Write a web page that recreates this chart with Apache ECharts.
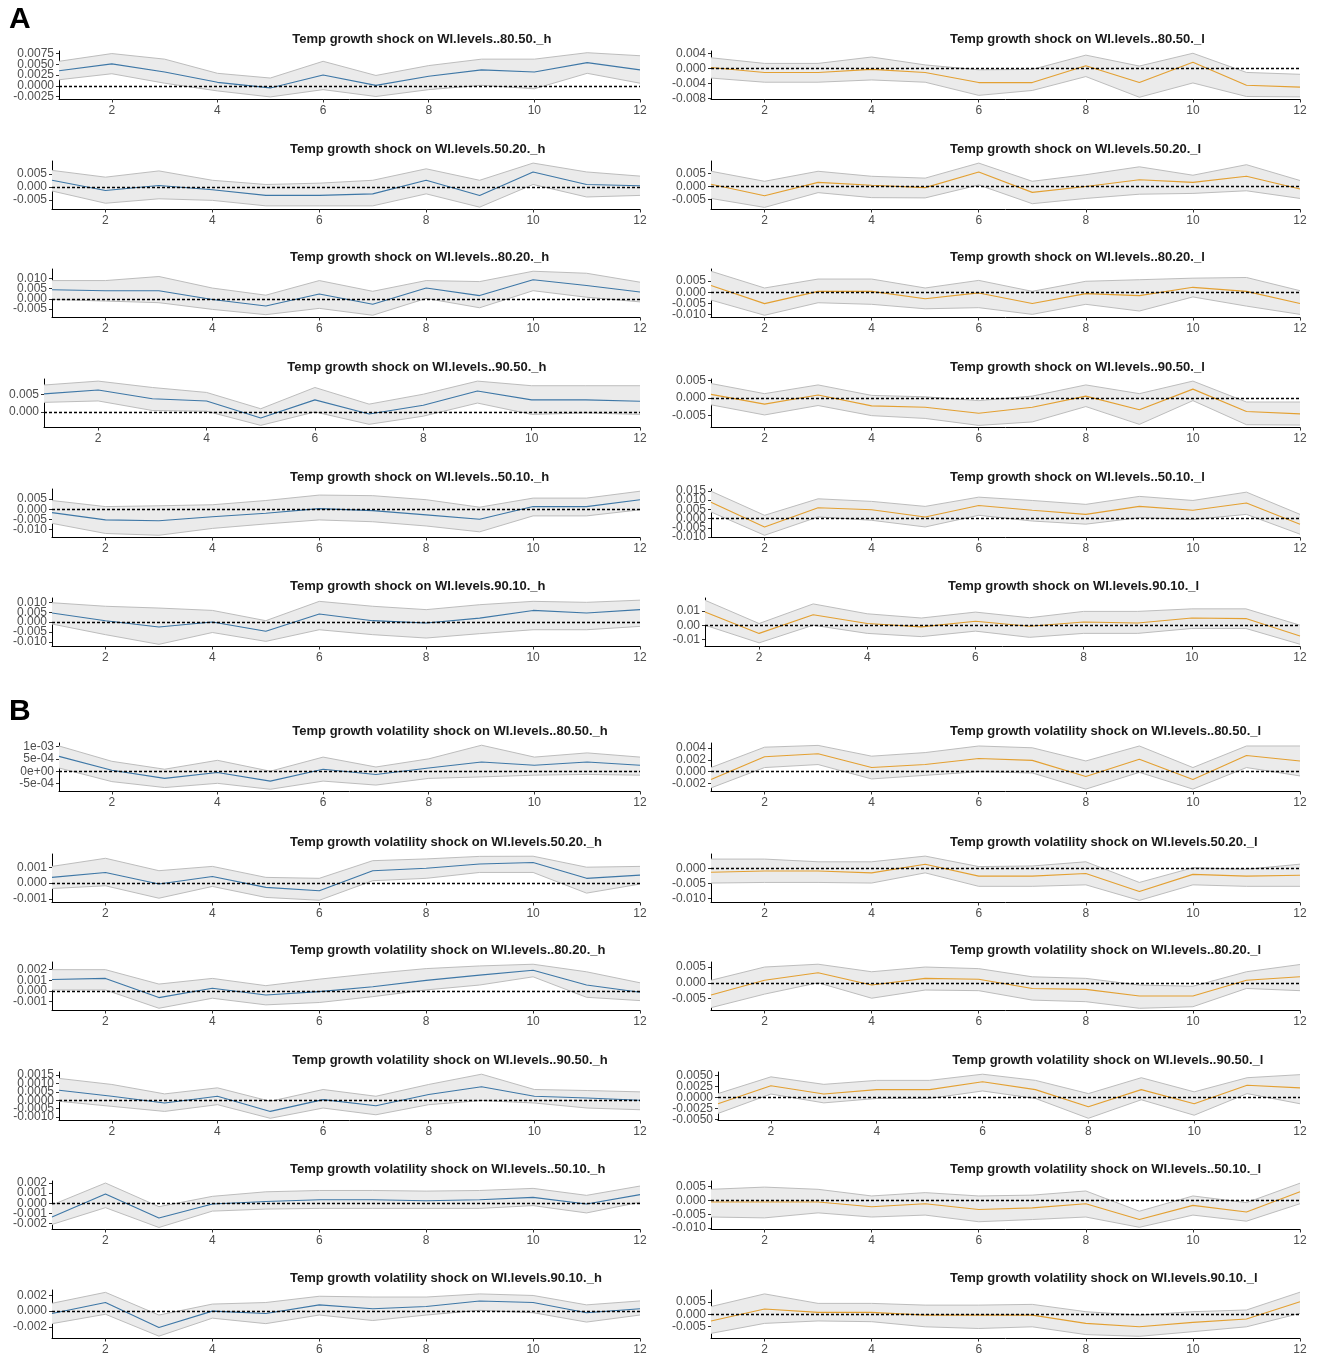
<!DOCTYPE html>
<html><head><meta charset="utf-8">
<script src="https://cdn.jsdelivr.net/npm/echarts@6/dist/echarts.min.js"></script>
<style>html,body{margin:0;padding:0;background:#fff;}#chart{width:1317px;height:1356px;}</style>
</head><body><div id="chart"></div>
<script>
// ---------------- DATA ----------------
const horizon = [1,2,3,4,5,6,7,8,9,10,11,12];
const xTickValues = [2,4,6,8,10,12];

// Panel A : temperature growth shock
const A_8050_h_mean = [0.0035,0.0051,0.0032,0.0008,-0.0005,0.0025,0.0001,0.0022,0.0037,0.0032,0.0054,0.0037];
const A_8050_h_hi   = [0.0057,0.0075,0.0062,0.0029,0.0018,0.0057,0.0024,0.0047,0.0062,0.0062,0.0077,0.0070];
const A_8050_h_lo   = [0.0014,0.0028,0.0006,-0.0012,-0.0026,-0.0009,-0.0025,-0.0009,0.0001,-0.0007,0.0029,0.0006];
const A_8050_h_ticks = ["-0.0025","0.0000","0.0025","0.0050","0.0075"];

const A_8050_l_mean = [0.0003,-0.0010,-0.0010,-0.0002,-0.0010,-0.0037,-0.0037,0.0008,-0.0037,0.0017,-0.0044,-0.0049];
const A_8050_l_hi   = [0.0029,0.0014,0.0014,0.0031,0.0010,-0.0003,-0.0002,0.0036,0.0007,0.0041,-0.0010,-0.0015];
const A_8050_l_lo   = [-0.0025,-0.0036,-0.0036,-0.0030,-0.0036,-0.0071,-0.0058,-0.0021,-0.0076,-0.0038,-0.0074,-0.0075];
const A_8050_l_ticks = ["-0.008","-0.004","0.000","0.004"];

const A_5020_h_mean = [0.0026,-0.0013,0.0006,-0.0010,-0.0032,-0.0032,-0.0026,0.0026,-0.0032,0.0058,0.0010,0.0005];
const A_5020_h_hi   = [0.0064,0.0038,0.0062,0.0026,0.0010,0.0015,0.0026,0.0070,0.0026,0.0092,0.0058,0.0042];
const A_5020_h_lo   = [-0.0015,-0.0062,-0.0045,-0.0051,-0.0072,-0.0072,-0.0072,-0.0026,-0.0077,0.0010,-0.0038,-0.0032];
const A_5020_h_ticks = ["-0.005","0.000","0.005"];

const A_5020_l_mean = [0.0009,-0.0035,0.0016,0.0005,-0.0004,0.0055,-0.0022,0.0000,0.0026,0.0016,0.0039,-0.0009];
const A_5020_l_hi   = [0.0058,0.0020,0.0058,0.0039,0.0032,0.0089,0.0020,0.0045,0.0075,0.0043,0.0083,0.0023];
const A_5020_l_lo   = [-0.0045,-0.0079,-0.0023,-0.0042,-0.0043,0.0006,-0.0065,-0.0045,-0.0029,-0.0026,-0.0016,-0.0045];
const A_5020_l_ticks = ["-0.005","0.000","0.005"];

const A_8020_h_mean = [0.0045,0.0040,0.0040,-0.0003,-0.0035,0.0024,-0.0027,0.0053,0.0016,0.0094,0.0066,0.0034];
const A_8020_h_hi   = [0.0090,0.0090,0.0110,0.0053,0.0018,0.0090,0.0037,0.0090,0.0085,0.0136,0.0126,0.0082];
const A_8020_h_lo   = [-0.0003,-0.0011,-0.0019,-0.0052,-0.0078,-0.0047,-0.0081,0.0002,-0.0044,0.0040,0.0008,-0.0015];
const A_8020_h_ticks = ["-0.005","0.000","0.005","0.010"];

const A_8020_l_mean = [0.0030,-0.0051,0.0004,0.0004,-0.0029,-0.0003,-0.0050,-0.0006,-0.0015,0.0022,0.0004,-0.0050];
const A_8020_l_hi   = [0.0094,0.0019,0.0059,0.0059,0.0019,0.0053,0.0004,0.0049,0.0056,0.0063,0.0066,0.0007];
const A_8020_l_lo   = [-0.0035,-0.0103,-0.0047,-0.0054,-0.0074,-0.0069,-0.0099,-0.0054,-0.0084,-0.0021,-0.0062,-0.0099];
const A_8020_l_ticks = ["-0.010","-0.005","0.000","0.005"];

const A_9050_h_mean = [0.0051,0.0062,0.0037,0.0031,-0.0017,0.0034,-0.0006,0.0019,0.0059,0.0034,0.0034,0.0030];
const A_9050_h_hi   = [0.0076,0.0087,0.0069,0.0055,0.0009,0.0069,0.0022,0.0050,0.0087,0.0074,0.0074,0.0074];
const A_9050_h_lo   = [0.0027,0.0031,0.0004,0.0002,-0.0038,0.0000,-0.0035,-0.0012,0.0025,-0.0007,-0.0003,-0.0007];
const A_9050_h_ticks = ["0.000","0.005"];

const A_9050_l_mean = [0.0010,-0.0018,0.0008,-0.0023,-0.0027,-0.0044,-0.0027,0.0005,-0.0034,0.0025,-0.0039,-0.0046];
const A_9050_l_hi   = [0.0041,0.0012,0.0037,0.0007,0.0003,-0.0008,0.0005,0.0037,0.0012,0.0048,-0.0012,-0.0012];
const A_9050_l_lo   = [-0.0020,-0.0049,-0.0022,-0.0051,-0.0059,-0.0079,-0.0069,-0.0025,-0.0076,-0.0008,-0.0077,-0.0078];
const A_9050_l_ticks = ["-0.005","0.000","0.005"];

const A_5010_h_mean = [-0.0017,-0.0053,-0.0057,-0.0037,-0.0020,0.0003,-0.0007,-0.0028,-0.0050,0.0013,0.0013,0.0047];
const A_5010_h_hi   = [0.0043,0.0013,0.0017,0.0022,0.0043,0.0070,0.0067,0.0047,0.0010,0.0055,0.0055,0.0089];
const A_5010_h_lo   = [-0.0070,-0.0120,-0.0129,-0.0095,-0.0073,-0.0053,-0.0062,-0.0083,-0.0112,-0.0033,-0.0033,-0.0003];
const A_5010_h_ticks = ["-0.010","-0.005","0.000","0.005"];

const A_5010_l_mean = [0.0089,-0.0045,0.0059,0.0048,0.0009,0.0071,0.0045,0.0023,0.0066,0.0045,0.0084,-0.0030];
const A_5010_l_hi   = [0.0148,0.0018,0.0107,0.0093,0.0066,0.0116,0.0098,0.0077,0.0120,0.0098,0.0143,0.0023];
const A_5010_l_lo   = [0.0036,-0.0090,0.0009,-0.0009,-0.0045,0.0018,-0.0013,-0.0030,0.0005,-0.0005,0.0023,-0.0084];
const A_5010_l_ticks = ["-0.010","-0.005","0.000","0.005","0.010","0.015"];

const A_9010_h_mean = [0.0046,0.0007,-0.0025,0.0000,-0.0047,0.0041,0.0007,-0.0005,0.0020,0.0059,0.0046,0.0063];
const A_9010_h_hi   = [0.0098,0.0080,0.0071,0.0059,0.0007,0.0105,0.0080,0.0063,0.0088,0.0105,0.0100,0.0111];
const A_9010_h_lo   = [-0.0010,-0.0064,-0.0113,-0.0053,-0.0098,-0.0039,-0.0064,-0.0081,-0.0059,-0.0039,-0.0039,-0.0022];
const A_9010_h_ticks = ["-0.010","-0.005","0.000","0.005","0.010"];

const A_9010_l_mean = [0.0093,-0.0058,0.0074,0.0012,-0.0012,0.0028,-0.0007,0.0023,0.0016,0.0051,0.0047,-0.0077];
const A_9010_l_hi   = [0.0177,0.0012,0.0151,0.0081,0.0051,0.0093,0.0053,0.0098,0.0098,0.0116,0.0116,0.0000];
const A_9010_l_lo   = [0.0000,-0.0125,0.0000,-0.0058,-0.0081,-0.0042,-0.0086,-0.0058,-0.0058,-0.0023,-0.0023,-0.0135];
const A_9010_l_ticks = ["-0.01","0.00","0.01"];

// Panel B : temperature growth volatility shock
const B_8050_h_mean = [0.00060,0.00004,-0.00029,-0.00005,-0.00040,0.00008,-0.00013,0.00013,0.00037,0.00024,0.00037,0.00024];
const B_8050_h_hi   = [0.00102,0.00040,0.00008,0.00044,0.00000,0.00057,0.00017,0.00050,0.00105,0.00057,0.00074,0.00057];
const B_8050_h_lo   = [0.00013,-0.00042,-0.00066,-0.00049,-0.00073,-0.00040,-0.00056,-0.00029,-0.00023,-0.00016,-0.00013,-0.00016];
const B_8050_h_ticks = ["-5e-04","0e+00","5e-04","1e-03"];

const B_8050_l_mean = [-0.0013,0.0025,0.0030,0.0007,0.0012,0.0022,0.0019,-0.0008,0.0021,-0.0013,0.0027,0.0018];
const B_8050_l_hi   = [0.0007,0.0041,0.0044,0.0026,0.0032,0.0043,0.0040,0.0018,0.0043,0.0007,0.0043,0.0043];
const B_8050_l_lo   = [-0.0027,0.0007,0.0012,-0.0012,-0.0006,0.0000,-0.0002,-0.0029,-0.0001,-0.0029,0.0007,-0.0007];
const B_8050_l_ticks = ["-0.002","0.000","0.002","0.004"];

const B_5020_h_mean = [0.00036,0.00067,-0.00006,0.00042,-0.00027,-0.00048,0.00078,0.00093,0.00120,0.00130,0.00030,0.00050];
const B_5020_h_hi   = [0.00105,0.00156,0.00078,0.00105,0.00036,0.00030,0.00141,0.00152,0.00168,0.00169,0.00100,0.00105];
const B_5020_h_lo   = [-0.00034,-0.00017,-0.00095,-0.00021,-0.00090,-0.00108,0.00015,0.00030,0.00067,0.00067,-0.00063,-0.00006];
const B_5020_h_ticks = ["-0.001","0.000","0.001"];

const B_5020_l_mean = [-0.0013,-0.0009,-0.0009,-0.0015,0.0014,-0.0026,-0.0026,-0.0017,-0.0077,-0.0020,-0.0026,-0.0023];
const B_5020_l_hi   = [0.0031,0.0031,0.0022,0.0022,0.0041,0.0006,0.0008,0.0022,-0.0047,0.0002,-0.0003,0.0014];
const B_5020_l_lo   = [-0.0049,-0.0047,-0.0047,-0.0049,-0.0015,-0.0060,-0.0060,-0.0055,-0.0107,-0.0055,-0.0060,-0.0060];
const B_5020_l_ticks = ["-0.010","-0.005","0.000"];

const B_8020_h_mean = [0.00108,0.00118,-0.00062,0.00025,-0.00037,-0.00006,0.00040,0.00100,0.00149,0.00195,0.00056,-0.00012];
const B_8020_h_hi   = [0.00200,0.00200,0.00065,0.00118,0.00050,0.00111,0.00164,0.00210,0.00235,0.00251,0.00180,0.00077];
const B_8020_h_lo   = [0.00010,0.00010,-0.00162,-0.00068,-0.00130,-0.00108,-0.00053,0.00010,0.00056,0.00133,-0.00059,-0.00090];
const B_8020_h_ticks = ["-0.001","0.000","0.001","0.002"];

const B_8020_l_mean = [-0.0039,0.0008,0.0032,-0.0007,0.0014,0.0011,-0.0018,-0.0021,-0.0042,-0.0042,0.0008,0.0019];
const B_8020_l_hi   = [0.0008,0.0050,0.0059,0.0035,0.0050,0.0045,0.0019,0.0014,-0.0007,-0.0011,0.0035,0.0058];
const B_8020_l_lo   = [-0.0079,-0.0036,0.0000,-0.0049,-0.0023,-0.0025,-0.0055,-0.0060,-0.0081,-0.0076,-0.0018,-0.0025];
const B_8020_l_ticks = ["-0.005","0.000","0.005"];

const B_9050_h_mean = [0.00060,0.00024,-0.00016,0.00024,-0.00066,0.00004,-0.00032,0.00034,0.00080,0.00024,0.00014,0.00000];
const B_9050_h_hi   = [0.00130,0.00094,0.00038,0.00074,-0.00006,0.00064,0.00024,0.00094,0.00155,0.00064,0.00058,0.00050];
const B_9050_h_lo   = [-0.00006,-0.00036,-0.00066,-0.00026,-0.00107,-0.00046,-0.00086,-0.00026,-0.00002,-0.00016,-0.00046,-0.00056];
const B_9050_h_ticks = ["-0.0010","-0.0005","0.0000","0.0005","0.0010","0.0015"];

const B_9050_l_mean = [-0.0014,0.0027,0.0008,0.0018,0.0018,0.0036,0.0018,-0.0021,0.0018,-0.0014,0.0028,0.0022];
const B_9050_l_hi   = [0.0009,0.0047,0.0030,0.0039,0.0039,0.0053,0.0039,0.0009,0.0045,0.0013,0.0045,0.0052];
const B_9050_l_lo   = [-0.0036,0.0008,-0.0012,-0.0002,-0.0002,0.0015,-0.0002,-0.0047,-0.0005,-0.0040,0.0009,-0.0014];
const B_9050_l_ticks = ["-0.0050","-0.0025","0.0000","0.0025","0.0050"];

const B_5010_h_mean = [-0.00137,0.00092,-0.00147,-0.00007,0.00017,0.00034,0.00034,0.00024,0.00034,0.00058,-0.00007,0.00085];
const B_5010_h_hi   = [-0.00017,0.00200,-0.00034,0.00068,0.00113,0.00126,0.00126,0.00120,0.00126,0.00147,0.00078,0.00170];
const B_5010_h_lo   = [-0.00210,-0.00044,-0.00240,-0.00078,-0.00058,-0.00051,-0.00051,-0.00051,-0.00051,-0.00024,-0.00096,0.00010];
const B_5010_h_ticks = ["-0.002","-0.001","0.000","0.001","0.002"];

const B_5010_l_mean = [-0.0006,-0.0006,-0.0006,-0.0023,-0.0012,-0.0033,-0.0027,-0.0012,-0.0069,-0.0018,-0.0042,0.0031];
const B_5010_l_hi   = [0.0040,0.0048,0.0040,0.0016,0.0028,0.0016,0.0019,0.0034,-0.0039,0.0016,-0.0008,0.0062];
const B_5010_l_lo   = [-0.0060,-0.0063,-0.0045,-0.0060,-0.0053,-0.0077,-0.0069,-0.0060,-0.0097,-0.0053,-0.0075,-0.0012];
const B_5010_l_ticks = ["-0.010","-0.005","0.000","0.005"];

const B_9010_h_mean = [-0.0003,0.0011,-0.0021,0.0000,-0.0003,0.0008,0.0003,0.0006,0.0013,0.0011,-0.0002,0.0003];
const B_9010_h_hi   = [0.0010,0.0024,-0.0005,0.0009,0.0011,0.0019,0.0018,0.0018,0.0022,0.0020,0.0008,0.0013];
const B_9010_h_lo   = [-0.0016,-0.0004,-0.0032,-0.0009,-0.0016,-0.0005,-0.0012,-0.0005,0.0001,-0.0002,-0.0014,-0.0005];
const B_9010_h_ticks = ["-0.002","0.000","0.002"];

const B_9010_l_mean = [-0.0027,0.0022,0.0008,0.0008,-0.0003,-0.0003,-0.0003,-0.0037,-0.0051,-0.0033,-0.0019,0.0052];
const B_9010_l_hi   = [0.0032,0.0084,0.0045,0.0045,0.0038,0.0038,0.0041,0.0011,-0.0003,0.0011,0.0018,0.0091];
const B_9010_l_lo   = [-0.0078,-0.0037,-0.0027,-0.0030,-0.0051,-0.0058,-0.0051,-0.0083,-0.0090,-0.0071,-0.0051,0.0004];
const B_9010_l_ticks = ["-0.005","0.000","0.005"];

// panel table: [block, row, col, title, mean, lo, hi, ticks, yMin, yMax]
const panels = [
 ['A',0,0,'Temp growth shock on WI.levels..80.50._h',A_8050_h_mean,A_8050_h_lo,A_8050_h_hi,A_8050_h_ticks,-0.0032,0.0081],
 ['A',0,1,'Temp growth shock on WI.levels..80.50._l',A_8050_l_mean,A_8050_l_lo,A_8050_l_hi,A_8050_l_ticks,-0.0082,0.0047],
 ['A',1,0,'Temp growth shock on WI.levels.50.20._h',A_5020_h_mean,A_5020_h_lo,A_5020_h_hi,A_5020_h_ticks,-0.0086,0.0100],
 ['A',1,1,'Temp growth shock on WI.levels.50.20._l',A_5020_l_mean,A_5020_l_lo,A_5020_l_hi,A_5020_l_ticks,-0.0087,0.0097],
 ['A',2,0,'Temp growth shock on WI.levels..80.20._h',A_8020_h_mean,A_8020_h_lo,A_8020_h_hi,A_8020_h_ticks,-0.0092,0.0147],
 ['A',2,1,'Temp growth shock on WI.levels..80.20._l',A_8020_l_mean,A_8020_l_lo,A_8020_l_hi,A_8020_l_ticks,-0.0113,0.0104],
 ['A',3,0,'Temp growth shock on WI.levels..90.50._h',A_9050_h_mean,A_9050_h_lo,A_9050_h_hi,A_9050_h_ticks,-0.0044,0.0093],
 ['A',3,1,'Temp growth shock on WI.levels..90.50._l',A_9050_l_mean,A_9050_l_lo,A_9050_l_hi,A_9050_l_ticks,-0.0085,0.0054],
 ['A',4,0,'Temp growth shock on WI.levels..50.10._h',A_5010_h_mean,A_5010_h_lo,A_5010_h_hi,A_5010_h_ticks,-0.0140,0.0100],
 ['A',4,1,'Temp growth shock on WI.levels..50.10._l',A_5010_l_mean,A_5010_l_lo,A_5010_l_hi,A_5010_l_ticks,-0.0102,0.0160],
 ['A',5,0,'Temp growth shock on WI.levels.90.10._h',A_9010_h_mean,A_9010_h_lo,A_9010_h_hi,A_9010_h_ticks,-0.0124,0.0122],
 ['A',5,1,'Temp growth shock on WI.levels.90.10._l',A_9010_l_mean,A_9010_l_lo,A_9010_l_hi,A_9010_l_ticks,-0.0151,0.0193],
 ['B',0,0,'Temp growth volatility shock on WI.levels..80.50._h',B_8050_h_mean,B_8050_h_lo,B_8050_h_hi,B_8050_h_ticks,-0.00082,0.00114],
 ['B',0,1,'Temp growth volatility shock on WI.levels..80.50._l',B_8050_l_mean,B_8050_l_lo,B_8050_l_hi,B_8050_l_ticks,-0.0033,0.0048],
 ['B',1,0,'Temp growth volatility shock on WI.levels.50.20._h',B_5020_h_mean,B_5020_h_lo,B_5020_h_hi,B_5020_h_ticks,-0.00122,0.00183],
 ['B',1,1,'Temp growth volatility shock on WI.levels.50.20._l',B_5020_l_mean,B_5020_l_lo,B_5020_l_hi,B_5020_l_ticks,-0.0114,0.0048],
 ['B',2,0,'Temp growth volatility shock on WI.levels..80.20._h',B_8020_h_mean,B_8020_h_lo,B_8020_h_hi,B_8020_h_ticks,-0.00183,0.00272],
 ['B',2,1,'Temp growth volatility shock on WI.levels..80.20._l',B_8020_l_mean,B_8020_l_lo,B_8020_l_hi,B_8020_l_ticks,-0.0088,0.0066],
 ['B',3,0,'Temp growth volatility shock on WI.levels..90.50._h',B_9050_h_mean,B_9050_h_lo,B_9050_h_hi,B_9050_h_ticks,-0.0012,0.00168],
 ['B',3,1,'Temp growth volatility shock on WI.levels..90.50._l',B_9050_l_mean,B_9050_l_lo,B_9050_l_hi,B_9050_l_ticks,-0.0052,0.0058],
 ['B',4,0,'Temp growth volatility shock on WI.levels..50.10._h',B_5010_h_mean,B_5010_h_lo,B_5010_h_hi,B_5010_h_ticks,-0.0026,0.0022],
 ['B',4,1,'Temp growth volatility shock on WI.levels..50.10._l',B_5010_l_mean,B_5010_l_lo,B_5010_l_hi,B_5010_l_ticks,-0.0105,0.0070],
 ['B',5,0,'Temp growth volatility shock on WI.levels.90.10._h',B_9010_h_mean,B_9010_h_lo,B_9010_h_hi,B_9010_h_ticks,-0.0035,0.0027],
 ['B',5,1,'Temp growth volatility shock on WI.levels.90.10._l',B_9010_l_mean,B_9010_l_lo,B_9010_l_hi,B_9010_l_ticks,-0.0099,0.0100]
];

// ---------------- LAYOUT ----------------
const FONT = '"Liberation Sans", Arial, sans-serif';
const gridTops = { A: [51, 161, 269, 379, 489, 598], B: [743, 854, 962, 1072, 1181, 1290] };
const gridLefts = {
  A: [[59,711],[52,711],[52,711],[44,711],[52,711],[52,705]],
  B: [[59,711],[52,711],[52,711],[59,718],[52,711],[52,711]]
};
const rightEdge = [640, 1300];
const plotH = 48.5;
const lineColors = ['#3e77a6', '#e3a032'];

const grid = [], xAxis = [], yAxis = [], series = [];
const title = [
  { text: 'A', left: 9, top: 5, padding: 0, textStyle: { fontSize: 30, fontWeight: 'bold', color: '#000', fontFamily: FONT } },
  { text: 'B', left: 9, top: 697, padding: 0, textStyle: { fontSize: 30, fontWeight: 'bold', color: '#000', fontFamily: FONT } }
];
const xy = arr => horizon.map((h, k) => [h, arr[k]]);

panels.forEach((p, i) => {
  const [block, row, col, ttl, mean, lo, hi, ticks, yMin, yMax] = p;
  const L = gridLefts[block][row][col];
  const top = gridTops[block][row];
  grid.push({ left: L, top: top, width: rightEdge[col] - L, height: plotH, outerBoundsMode: 'none' });
  const titleLeft = (col === 0 ? 290 : 950) + 0.33 * (L - (col === 0 ? 52 : 711));
  title.push({ text: ttl, left: titleLeft, top: top - 18, padding: 0,
    textStyle: { fontSize: 13, fontWeight: 'bold', color: '#1a1a1a', fontFamily: FONT } });
  xAxis.push({
    type: 'value', gridIndex: i, min: 1, max: 12,
    axisLine: { show: true, onZero: false, lineStyle: { color: '#000', width: 1 } },
    axisTick: { show: true, length: 3, customValues: xTickValues, lineStyle: { color: '#333' } },
    axisLabel: { customValues: xTickValues, margin: 5, fontSize: 12, color: '#4d4d4d', fontFamily: FONT,
      hideOverlap: false, showMinLabel: true, showMaxLabel: true },
    splitLine: { show: false }
  });
  const tv = ticks.map(Number);
  const fmt = v => { const k = tv.findIndex(t => Math.abs(t - v) < 1e-12); return k >= 0 ? ticks[k] : ''; };
  // tick labels are split over two co-located axes (even / odd positions) so that
  // tightly packed labels are all kept, as in the original figure
  const evenVals = tv.filter((_, k) => k % 2 === 0);
  const oddVals = tv.filter((_, k) => k % 2 === 1);
  const labelStyle = { margin: 5, fontSize: 12, color: '#4d4d4d', fontFamily: FONT,
    hideOverlap: false, showMinLabel: true, showMaxLabel: true, formatter: fmt };
  yAxis.push({
    type: 'value', gridIndex: i, min: yMin, max: yMax, position: 'left', offset: 0,
    axisLine: { show: true, onZero: false, lineStyle: { color: '#000', width: 1 } },
    axisTick: { show: true, length: 3, customValues: tv, lineStyle: { color: '#333' } },
    axisLabel: Object.assign({ customValues: evenVals }, labelStyle),
    splitLine: { show: false }
  });
  yAxis.push({
    type: 'value', gridIndex: i, min: yMin, max: yMax, position: 'left', offset: 0,
    show: oddVals.length > 0,
    axisLine: { show: false }, axisTick: { show: false },
    axisLabel: Object.assign({ customValues: oddVals.length ? oddVals : [yMin - 1] }, labelStyle),
    splitLine: { show: false }
  });
  const yi = 2 * i;
  const common = { xAxisIndex: i, yAxisIndex: yi, silent: true, animation: false };
  // confidence ribbon drawn as polygon through the axis scales
  series.push(Object.assign({}, common, {
    type: 'custom', z: 1,
    data: horizon.map((h, k) => [h, lo[k], hi[k]]),
    encode: { x: 0, y: [1, 2] },
    renderItem: (params, api) => {
      if (params.dataIndex !== 0) return null;
      const upper = horizon.map((h, k) => api.coord([h, hi[k]]));
      const lower = horizon.map((h, k) => api.coord([h, lo[k]])).reverse();
      return { type: 'polygon', shape: { points: upper.concat(lower) }, style: { fill: '#ebebeb', stroke: null } };
    }
  }));
  series.push(Object.assign({}, common, { type: 'line', symbol: 'none', data: xy(lo), lineStyle: { color: '#bdbdbd', width: 1 }, z: 2 }));
  series.push(Object.assign({}, common, { type: 'line', symbol: 'none', data: xy(hi), lineStyle: { color: '#bdbdbd', width: 1 }, z: 2 }));
  series.push(Object.assign({}, common, { type: 'line', symbol: 'none', data: xy(mean), lineStyle: { color: lineColors[col], width: 1.1 }, z: 3,
    markLine: { silent: true, symbol: 'none', label: { show: false }, animation: false,
      lineStyle: { type: [3, 2], color: '#000', width: 1.3 }, data: [{ yAxis: 0 }] } }));
});

const chart = echarts.init(document.getElementById('chart'), null, { renderer: 'canvas' });
chart.setOption({ animation: false, backgroundColor: '#fff', title, grid, xAxis, yAxis, series });
</script></body></html>
